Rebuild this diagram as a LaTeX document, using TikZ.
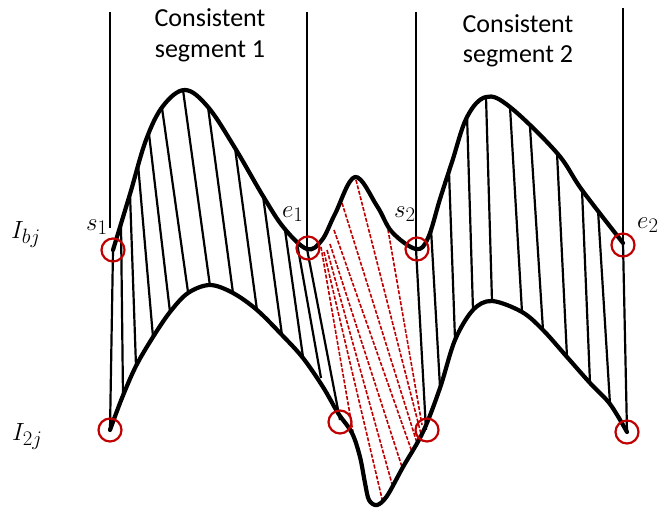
\documentclass[tikz,border=0pt]{standalone}
\usepackage{fontspec}
\newfontfamily\calibri{Carlito}
\definecolor{dred}{HTML}{C00000}
\begin{document}
\begin{tikzpicture}[x=1pt,y=-1pt,
  curve/.style={line width=4.2pt, line join=round, line cap=round},
  hatch/.style={line width=2.2pt},
  vline/.style={line width=1.6pt},
  rdash/.style={draw=dred, line width=1.6pt, dash pattern=on 4pt off 1.6pt},
  redring/.style={circle, draw=dred, line width=2.2pt, minimum size=23pt, inner sep=0pt},
  lbl/.style={font=\fontsize{30}{34}\selectfont, inner sep=0pt, anchor=base west},
  ttl/.style={font=\calibri\fontsize{26}{31}\selectfont, inner sep=0pt, anchor=base}
]
\useasboundingbox (0,0) rectangle (661,508);

% vertical boundary lines
\coordinate (v1t) at (110,12);  \coordinate (v1b) at (110,228);
\coordinate (v2t) at (307,12);  \coordinate (v2b) at (307,248);
\coordinate (v3t) at (416,12);  \coordinate (v3b) at (416,248);
\coordinate (v4t) at (623,8);   \coordinate (v4b) at (623,243);
\draw[vline] (v1t) -- (v1b);
\draw[vline] (v2t) -- (v2b);
\draw[vline] (v3t) -- (v3b);
\draw[vline] (v4t) -- (v4b);

% titles
\node[ttl] (c1a) at (210,27) {Consistent};
\node[ttl] (c1b) at (210,58) {segment 1};
\node[ttl] (c2a) at (518,33) {Consistent};
\node[ttl] (c2b) at (518,63) {segment 2};

% hatch lines, segment 1
\foreach \xa/\ya/\xb/\yb in {113/250/110/430, 121/224/123/396, 130/194/136/366,
  138/164/153/337, 149/134/170/312, 162/108/188/292, 183/90/210/286,
  208/107/233/293, 235/148/257/310, 263/196/282/335, 285/230/303/357,
  297/243/321/378, 307/249/340/420}
  \draw[hatch] (\xa,\ya) -- (\xb,\yb);

% hatch lines, segment 2
\foreach \xa/\ya/\xb/\yb in {416/249/426/430, 431/229/440/387, 449/172/455/339,
  467/115/473/310, 486/97/492/301, 510/107/522/312, 530/127/543/330,
  557/153/567/357, 582/190/590/383, 598/210/610/404, 623/243/627/432}
  \draw[hatch] (\xa,\ya) -- (\xb,\yb);

% red dashed correspondences
\foreach \xa/\ya/\xb/\yb in {321/247/353/432, 324/252/383/503, 327/250/392/484,
  330/244/402/467, 334/230/412/452, 342/203/417/443, 356/180/421/434,
  387/224/422/425}
  \draw[rdash] (\xa,\ya) -- (\xb,\yb);

% top curve I_bj
\draw[curve] plot[smooth, tension=0.6] coordinates {
  (113,250) (130,194) (146,140) (163,106) (185,90) (208,107) (235,148)
  (263,196) (284,228) (307,249) (322,240) (335,214) (355,177)
  (377,206) (392,232) (416,249) (428,238) (440,199) (452,162) (467,117)
  (486,97) (510,107) (557,153) (582,190) (623,243)};

% bottom curve I_2j
\draw[curve] plot[smooth, tension=0.55] coordinates {
  (110,430) (122,398) (136,366) (153,337) (170,312) (188,293) (210,285)
  (233,293) (257,310) (282,335) (303,358) (323,387) (338,413) (352,433)
  (360,457) (365,483) (369,500) (377,505) (387,496) (403,467) (423,432)
  (440,388) (455,340) (473,310) (492,301) (522,312) (543,330) (567,357)
  (590,383) (610,404) (627,432)};

% red circles
\node[redring] (rs1) at (113,250) {};
\node[redring] (re1) at (308,248) {};
\node[redring] (rs2) at (417,249) {};
\node[redring] (re2) at (623,245) {};
\node[redring] (rb1) at (110,430) {};
\node[redring] (rb2) at (340,422) {};
\node[redring] (rb3) at (427,430) {};
\node[redring] (rb4) at (627,432) {};

% labels
\node[lbl] (lIb) at (11,238) {$I_{bj}$};
\node[lbl] (lI2) at (12,440) {$I_{2j}$};
\node[lbl] (ls1) at (86,230) {$s_1$};
\node[lbl] (le1) at (282,217) {$e_1$};
\node[lbl] (ls2) at (394,217) {$s_2$};
\node[lbl] (le2) at (637,228) {$e_2$};
\end{tikzpicture}
\end{document}
